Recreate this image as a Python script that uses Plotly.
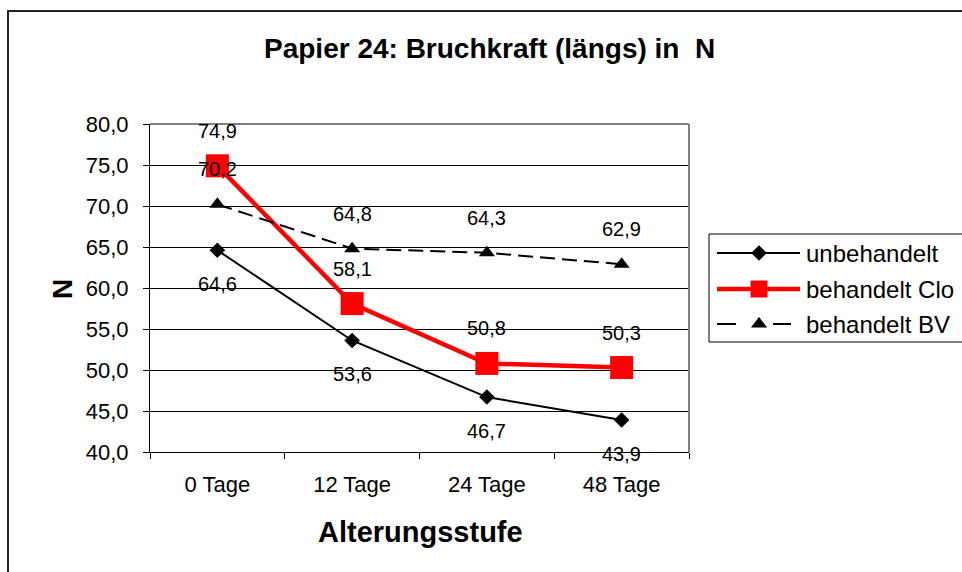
import plotly.graph_objects as go

# ---------------- data ----------------
categories = ["0 Tage", "12 Tage", "24 Tage", "48 Tage"]
unbehandelt = [64.6, 53.6, 46.7, 43.9]
behandelt_clo = [74.9, 58.1, 50.8, 50.3]
behandelt_bv = [70.2, 64.8, 64.3, 62.9]
series_names = ["unbehandelt", "behandelt Clo", "behandelt BV"]
y_ticks = [40, 45, 50, 55, 60, 65, 70, 75, 80]

title_text = "Papier 24: Bruchkraft (längs) in  N"
x_title = "Alterungsstufe"
y_title = "N"

# ---------------- styles ----------------
W, H = 962, 572
FONT = "Liberation Sans, Arial, sans-serif"


def fx(p):
    return p / W


def fy(p):
    return 1 - p / H


plot_l, plot_r, plot_t, plot_b = 150, 689, 124, 452

styles = [
    dict(color="black", width=2, dash="solid", symbol="diamond", size=12, shift=-34,
         leg_x=[717, 800]),
    dict(color="#ff0000", width=4.5, dash="solid", symbol="square", size=23, shift=35,
         leg_x=[717, 800]),
    dict(color="black", width=2, dash="15px,7px", symbol="triangle-up", size=14, shift=35,
         leg_x=[717, 736, None, 773, 791]),
]
series_values = [unbehandelt, behandelt_clo, behandelt_bv]

fig = go.Figure()
annotations = []

for name, vals, st in zip(series_names, series_values, styles):
    fig.add_trace(go.Scatter(
        x=categories, y=vals, mode="lines+markers", name=name,
        line=dict(color=st["color"], width=st["width"], dash=st["dash"]),
        marker=dict(symbol=st["symbol"], size=st["size"], color=st["color"],
                    line=dict(width=0)),
        showlegend=False, cliponaxis=False,
    ))
    for c, v in zip(categories, vals):
        annotations.append(dict(
            x=c, y=v, xref="x", yref="y", text=f"{v:.1f}".replace(".", ","),
            showarrow=False, yshift=st["shift"],
            font=dict(family=FONT, size=20, color="black"),
        ))

# ---------------- custom legend (decoration, pixel overlay) ----------------
leg_rows = [253, 289, 324]
leg_xm, leg_text = 759, 804
for name, st, ry in zip(series_names, styles, leg_rows):
    lx = st["leg_x"]
    fig.add_trace(go.Scatter(
        x=lx, y=[None if v is None else ry for v in lx], xaxis="x2", yaxis="y2",
        mode="lines", line=dict(color=st["color"], width=st["width"]),
        showlegend=False, hoverinfo="skip", connectgaps=False,
    ))
    fig.add_trace(go.Scatter(
        x=[leg_xm], y=[ry], xaxis="x2", yaxis="y2", mode="markers",
        marker=dict(symbol=st["symbol"], size=st["size"] if st["size"] < 20 else 17,
                    color=st["color"], line=dict(width=0)),
        showlegend=False, hoverinfo="skip",
    ))
    annotations.append(dict(
        x=fx(leg_text), y=fy(ry), xref="paper", yref="paper", text=name,
        xanchor="left", yanchor="middle", showarrow=False,
        font=dict(family=FONT, size=24, color="black"),
    ))

# titles
annotations.append(dict(x=fx(489), y=fy(49), xref="paper", yref="paper", text=f"<b>{title_text}</b>",
                        showarrow=False, xanchor="center", yanchor="middle",
                        font=dict(family=FONT, size=28, color="black")))
annotations.append(dict(x=fx(420), y=fy(532), xref="paper", yref="paper", text=f"<b>{x_title}</b>",
                        showarrow=False, xanchor="center", yanchor="middle",
                        font=dict(family=FONT, size=29, color="black")))
annotations.append(dict(x=fx(62), y=fy(289), xref="paper", yref="paper", text=f"<b>{y_title}</b>",
                        showarrow=False, xanchor="center", yanchor="middle", textangle=-90,
                        font=dict(family=FONT, size=28, color="black")))

shapes = [
    # outer chart border
    dict(type="rect", xref="paper", yref="paper", x0=fx(8), x1=fx(985), y0=fy(11), y1=fy(600),
         line=dict(color="#222222", width=2), fillcolor="rgba(0,0,0,0)", layer="below"),
    # plot area top and right border (gray)
    dict(type="line", xref="paper", yref="paper", x0=fx(plot_l), x1=fx(plot_r), y0=fy(plot_t), y1=fy(plot_t),
         line=dict(color="#808080", width=2), layer="above"),
    dict(type="line", xref="paper", yref="paper", x0=fx(plot_r), x1=fx(plot_r), y0=fy(plot_t), y1=fy(plot_b),
         line=dict(color="#808080", width=2), layer="above"),
    # legend box
    dict(type="rect", xref="paper", yref="paper", x0=fx(709), x1=fx(990), y0=fy(234), y1=fy(342),
         line=dict(color="black", width=1), fillcolor="rgba(0,0,0,0)", layer="below"),
]

fig.update_layout(
    template="none",
    width=W, height=H, autosize=False,
    margin=dict(l=0, r=0, t=0, b=0, pad=0, autoexpand=False),
    paper_bgcolor="white", plot_bgcolor="rgba(0,0,0,0)",
    separators=", ",
    showlegend=False,
    font=dict(family=FONT, color="black"),
    xaxis=dict(
        domain=[fx(plot_l), fx(plot_r)], type="category", range=[-0.5, 3.5],
        categoryorder="array", categoryarray=categories,
        showgrid=False, zeroline=False, showline=True, linecolor="black", linewidth=1,
        ticks="outside", ticklen=6, tickcolor="black", tickwidth=1, tickson="boundaries",
        tickfont=dict(family=FONT, size=22, color="black"), ticklabelstandoff=13,
        anchor="y", fixedrange=True, automargin=False,
    ),
    yaxis=dict(
        domain=[fy(plot_b), fy(plot_t)], range=[40, 80], tickvals=y_ticks, tickformat=".1f",
        showgrid=True, gridcolor="black", gridwidth=1, zeroline=False,
        showline=True, linecolor="black", linewidth=1,
        ticks="outside", ticklen=6, tickcolor="black", tickwidth=1,
        tickfont=dict(family=FONT, size=22, color="black"), ticklabelstandoff=10,
        anchor="x", fixedrange=True, automargin=False,
    ),
    xaxis2=dict(domain=[0, 1], range=[0, W], visible=False, anchor="y2", fixedrange=True, automargin=False),
    yaxis2=dict(domain=[0, 1], range=[H, 0], visible=False, anchor="x2", fixedrange=True, automargin=False),
    annotations=annotations,
    shapes=shapes,
)

fig.write_html("out.html", config={"displayModeBar": False})
